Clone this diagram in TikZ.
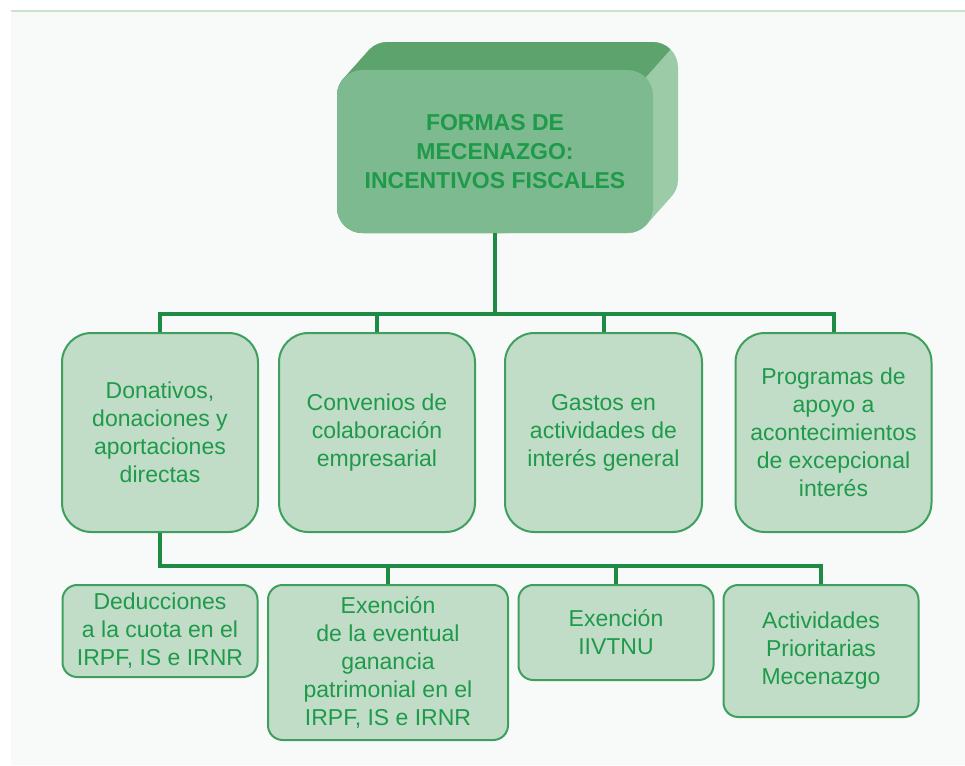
\documentclass[tikz,border=0pt]{standalone}
\usepackage{fontspec}
\setmainfont{Liberation Sans}
\definecolor{panel}{HTML}{F8FAF9}
\definecolor{rulegreen}{HTML}{C9E1CD}
\definecolor{frontg}{HTML}{7EBA8F}
\definecolor{topg}{HTML}{5CA36E}
\definecolor{sideg}{HTML}{9CCBA8}
\definecolor{boxfill}{HTML}{C1DDC7}
\definecolor{boxline}{HTML}{3F9F5E}
\definecolor{wiregreen}{HTML}{1E8B45}
\definecolor{ink}{HTML}{1E9A4A}
\begin{document}
\begin{tikzpicture}[x=0.75pt,y=-0.75pt,
  txt/.style={font=\fontsize{17.25}{21}\selectfont, text=ink, align=center, inner sep=0pt},
  tier/.style={txt, draw=boxline, line width=1.5pt, fill=boxfill, rounded corners=22pt},
  leaf/.style={txt, draw=boxline, line width=1.5pt, fill=boxfill, rounded corners=11pt},
  wire/.style={draw=wiregreen, line width=3pt}]

\useasboundingbox (0,0) rectangle (965,765);
\fill[white] (0,0) rectangle (965,765);
\fill[panel] (11,12) rectangle (965,765);
\draw[rulegreen, line width=1.5pt] (11,11) -- (965,11);

% extruded header block: swept outline, split into top and side faces
\begin{scope}
  \clip[rounded corners=19pt] foreach \s in {0,1,...,25} {(337+\s,70-28*\s/25) rectangle (653+\s,233-28*\s/25)};
  \fill[sideg] (300,20) rectangle (700,260);
  \fill[topg] (645.4,77.6) -- (695.4,21.6) -- (300,21.6) -- (300,300) -- (445.4,301.6) -- cycle;
\end{scope}

\node[txt, font=\fontsize{17.25}{22}\selectfont\bfseries, fill=frontg, rounded corners=19pt,
      minimum width=237pt, minimum height=122.25pt] (head) at (495,151.5)
      {FORMAS DE\\MECENAZGO:\\INCENTIVOS FISCALES};

% second tier
\node[tier, minimum width=147pt, minimum height=149.25pt] (b1) at (160,432.5)
  {Donativos,\\donaciones y\\aportaciones\\directas};
\node[tier, minimum width=147pt, minimum height=149.25pt] (b2) at (377,432.5)
  {Convenios de\\colaboración\\empresarial};
\node[tier, minimum width=147.75pt, minimum height=149.25pt] (b3) at (603.5,432.5)
  {Gastos en\\actividades de\\interés general};
\node[tier, minimum width=147pt, minimum height=149.25pt] (b4) at (833.5,432.5)
  {Programas de\\apoyo a\\acontecimientos\\de excepcional\\interés};

% third tier
\node[leaf, minimum width=146.25pt, minimum height=69pt] (c1) at (160,631)
  {Deducciones\\a la cuota en el\\IRPF, IS e IRNR};
\node[leaf, minimum width=180pt, minimum height=116.25pt] (c2) at (388,662.5)
  {Exención\\de la eventual\\ganancia\\patrimonial en el\\IRPF, IS e IRNR};
\node[leaf, minimum width=146.25pt, minimum height=71.25pt] (c3) at (616,632.5)
  {Exención\\IIVTNU};
\node[leaf, minimum width=146.25pt, minimum height=99pt] (c4) at (821,651)
  {Actividades\\Prioritarias\\Mecenazgo};

% connectors
\coordinate (bus1) at (495,314);
\coordinate (bus2) at (160,566);
\draw[wire] (head.south) -- (bus1);
\draw[wire] (b1.north) -- (b1.north |- bus1) -- (b4.north |- bus1) -- (b4.north);
\draw[wire] (b2.north) -- (b2.north |- bus1);
\draw[wire] (b3.north) -- (b3.north |- bus1);
\draw[wire] (b1.south) -- (bus2) -- (c4.north |- bus2) -- (c4.north);
\draw[wire] (c2.north) -- (c2.north |- bus2);
\draw[wire] (c3.north) -- (c3.north |- bus2);
\end{tikzpicture}
\end{document}
